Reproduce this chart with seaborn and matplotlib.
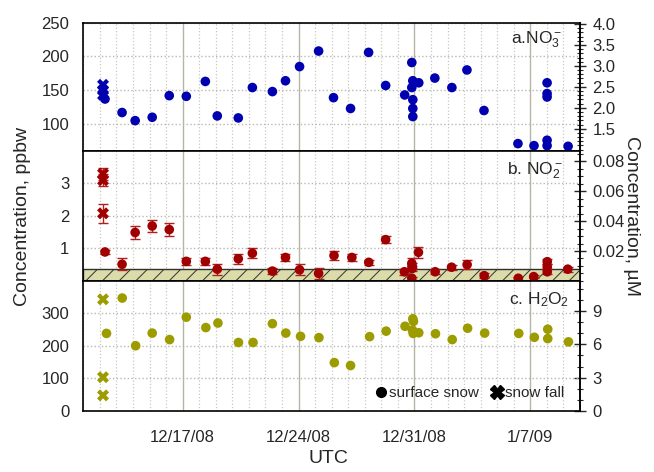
import matplotlib
matplotlib.use("Agg")
import matplotlib.pyplot as plt
import matplotlib.dates as mdates
from matplotlib.ticker import MultipleLocator, FormatStrFormatter, FixedLocator
from matplotlib.lines import Line2D
import numpy as np
import pandas as pd
import seaborn as sns

START = pd.Timestamp("2008-12-11")
END = pd.Timestamp("2009-01-10")

# sample times, in days after 2008-12-11 00:00 UTC
no3_day = [1.31, 2.34, 3.13, 4.16, 5.19, 6.22, 7.37, 8.09, 9.36, 10.21, 11.42,
           12.21, 13.06, 14.21, 15.11, 16.14, 17.23, 18.26, 19.41, 19.84, 19.90,
           19.84, 20.26, 19.90, 19.90, 19.90, 21.23, 22.26, 23.17, 24.20, 26.25,
           27.22, 28.01, 28.01, 28.01, 28.01, 28.01, 29.28]
no3_ppbw = [137, 117, 105, 110, 142, 141, 163, 112, 109, 154, 148,
            164, 185, 208, 139, 123, 206, 157, 143, 191, 164,
            154, 161, 136, 123, 111, 168, 154, 180, 120, 71,
            68, 161, 145, 140, 76, 68, 67]
no3_fall_day = [1.19, 1.19, 1.19]
no3_fall_ppbw = [158, 150, 143]

no2_day = [1.31, 2.34, 3.13, 4.16, 5.19, 6.22, 7.37, 8.09, 9.36, 10.21, 11.42,
           12.21, 13.06, 14.21, 15.14, 16.22, 17.24, 18.26, 19.39, 19.84, 19.86,
           19.86, 19.84, 20.24, 21.25, 22.24, 23.18, 24.21, 26.27, 27.20, 28.02,
           28.02, 28.02, 29.26]
no2_ppbw = [0.89, 0.51, 1.49, 1.69, 1.58, 0.60, 0.60, 0.36, 0.68, 0.85, 0.30,
            0.72, 0.34, 0.23, 0.78, 0.72, 0.57, 1.27, 0.28, 0.54, 0.46,
            0.38, 0.08, 0.88, 0.28, 0.42, 0.50, 0.16, 0.08, 0.13, 0.59,
            0.43, 0.28, 0.36]
no2_err = [0.07, 0.19, 0.19, 0.20, 0.20, 0.10, 0.10, 0.17, 0.15, 0.15, 0.10,
           0.12, 0.17, 0.17, 0.14, 0.10, 0.08, 0.10, 0.10, 0.15, 0.10,
           0.08, 0.05, 0.17, 0.08, 0.08, 0.15, 0.07, 0.05, 0.05, 0.08,
           0.08, 0.08, 0.08]
no2_fall_day = [1.19, 1.19, 1.19]
no2_fall_ppbw = [3.30, 3.10, 2.08]
no2_fall_err = [0.18, 0.18, 0.30]
no2_blank = 0.35  # detection limit band

h2o2_day = [1.40, 2.35, 3.16, 4.16, 5.21, 6.22, 7.40, 8.13, 9.37, 10.25, 11.42,
            12.23, 13.12, 14.23, 15.16, 16.14, 17.29, 18.29, 19.43, 19.90, 19.94,
            19.88, 19.92, 20.26, 21.27, 22.28, 23.21, 24.24, 26.30, 27.24, 28.05,
            28.05, 29.30]
h2o2_ppbw = [238, 347, 200, 239, 219, 288, 256, 270, 210, 210, 268,
             239, 229, 225, 148, 139, 228, 245, 260, 283, 275,
             248, 238, 240, 237, 219, 254, 239, 238, 226, 251,
             222, 212]
h2o2_fall_day = [1.19, 1.19, 1.19]
h2o2_fall_ppbw = [343, 103, 47]

BLUE = "#0000b0"
RED = "#a00000"
OLIVE = "#9c9c00"


def to_time(days):
    return START + pd.to_timedelta(np.asarray(days), unit="D")


def date_label(x, pos):
    d = mdates.num2date(x)
    return f"{d.month}/{d.day}/{d:%y}"


def style_axis(ax, ylim, yticks, yminor, right_scale, rticks, rminor, rfmt, lfmt="%d"):
    ax.set_xlim(START, END)
    ax.set_ylim(*ylim)
    ax.xaxis.set_major_locator(mdates.WeekdayLocator(byweekday=mdates.WE))
    ax.xaxis.set_minor_locator(mdates.DayLocator())
    ax.yaxis.set_major_locator(FixedLocator(yticks))
    ax.yaxis.set_minor_locator(MultipleLocator(yminor))
    ax.yaxis.set_major_formatter(FormatStrFormatter(lfmt))
    ax.grid(which="major", axis="x", color="#b4b4a8", ls="-", lw=1.0)
    ax.grid(which="minor", axis="x", color="#c8c8c0", ls=":", lw=0.9)
    ax.grid(which="major", axis="y", color="#b8b8b0", ls=":", lw=1.0)
    ax.set_axisbelow(True)
    ax.tick_params(axis="y", which="major", direction="inout", length=8, width=1,
                   labelsize=12, pad=6)
    ax.tick_params(axis="y", which="minor", direction="inout", length=5, width=0.8)
    ax.tick_params(axis="x", which="both", direction="out", length=5, width=0.8)
    for sp in ax.spines.values():
        sp.set_color("black")
        sp.set_linewidth(1.2)
    ax.set_xlabel("")
    ax.set_ylabel("")

    sec = ax.secondary_yaxis("right", functions=(lambda v: v / right_scale,
                                                  lambda v: v * right_scale))
    sec.yaxis.set_major_locator(FixedLocator(rticks))
    sec.yaxis.set_minor_locator(MultipleLocator(rminor))
    sec.yaxis.set_major_formatter(FormatStrFormatter(rfmt))
    sec.tick_params(axis="y", which="major", direction="inout", length=8, width=1,
                    labelsize=12, pad=5)
    sec.tick_params(axis="y", which="minor", direction="inout", length=5, width=0.8)
    sec.spines["right"].set_linewidth(1.2)
    return sec


sns.set_style("white")
plt.rcParams["font.family"] = ["Liberation Sans", "DejaVu Sans"]
plt.rcParams["mathtext.fontset"] = "custom"
plt.rcParams["mathtext.rm"] = "Liberation Sans"
plt.rcParams["mathtext.it"] = "Liberation Sans"
plt.rcParams["hatch.linewidth"] = 0.7
plt.rcParams["hatch.color"] = "#303030"

fig = plt.figure(figsize=(6.54, 4.72), dpi=100)
left, width = 0.1274, 0.7595
ax_a = fig.add_axes([left, 0.680, width, 0.272])
ax_b = fig.add_axes([left, 0.405, width, 0.275], sharex=ax_a)
ax_c = fig.add_axes([left, 0.130, width, 0.275], sharex=ax_a)

dot = dict(s=48, edgecolor="none", linewidth=0, legend=False, zorder=3)
cross = dict(s=75, marker="X", edgecolor="none", linewidth=0, legend=False, zorder=3)

# a. nitrate
sns.scatterplot(x=to_time(no3_day), y=no3_ppbw, color=BLUE, ax=ax_a, **dot)
sns.scatterplot(x=to_time(no3_fall_day), y=no3_fall_ppbw, color=BLUE, ax=ax_a, **cross)
style_axis(ax_a, (60, 250), [100, 150, 200, 250], 10, 62.0,
           [1.5, 2.0, 2.5, 3.0, 3.5, 4.0], 0.1, "%.1f")
ax_a.text(0.965, 0.95, r"a.NO$_3^-$", transform=ax_a.transAxes,
          ha="right", va="top", fontsize=12.5)

# b. nitrite
ax_b.axhspan(0, no2_blank, facecolor="#dcdcaa", edgecolor="#303030", hatch="//",
             lw=1.0, zorder=1)
ax_b.errorbar(to_time(no2_day), no2_ppbw, yerr=no2_err, fmt="none", ecolor="#b02020",
              elinewidth=1, capsize=3.5, capthick=1, zorder=2)
ax_b.errorbar(to_time(no2_fall_day), no2_fall_ppbw, yerr=no2_fall_err, fmt="none",
              ecolor="#b02020", elinewidth=1, capsize=3.5, capthick=1, zorder=2)
sns.scatterplot(x=to_time(no2_day), y=no2_ppbw, color=RED, ax=ax_b, **dot)
sns.scatterplot(x=to_time(no2_fall_day), y=no2_fall_ppbw, color=RED, ax=ax_b, **cross)
style_axis(ax_b, (0, 4), [1, 2, 3], 0.2, 46.0,
           [0.02, 0.04, 0.06, 0.08], 0.005, "%.2f")
ax_b.text(0.965, 0.93, r"b. NO$_2^-$", transform=ax_b.transAxes,
          ha="right", va="top", fontsize=12.5)

# c. hydrogen peroxide
sns.scatterplot(x=to_time(h2o2_day), y=h2o2_ppbw, color=OLIVE, ax=ax_c, **dot)
sns.scatterplot(x=to_time(h2o2_fall_day), y=h2o2_fall_ppbw, color=OLIVE, ax=ax_c, **cross)
style_axis(ax_c, (0, 400), [0, 100, 200, 300], 20, 34.0,
           [0, 3, 6, 9], 1, "%d")
ax_c.text(0.978, 0.93, r"c. H$_2$O$_2$", transform=ax_c.transAxes,
          ha="right", va="top", fontsize=12.5)

for ax in (ax_a, ax_b):
    ax.tick_params(axis="x", which="both", labelbottom=False, length=0)
ax_c.xaxis.set_major_formatter(plt.FuncFormatter(date_label))
ax_c.tick_params(axis="x", which="major", labelsize=12, pad=9)

handles = [Line2D([], [], marker="o", color="black", ls="none", markersize=7),
           Line2D([], [], marker="X", color="black", ls="none", markersize=9.5)]
ax_c.legend(handles, ["surface snow", "snow fall"], ncol=2, frameon=False,
            loc="lower right", bbox_to_anchor=(0.99, 0.0), fontsize=11,
            handletextpad=0.0, columnspacing=0.6, handlelength=1.1, borderpad=0.2)

fig.text(0.035, 0.542, "Concentration, ppbw", rotation=90, ha="center",
         va="center", fontsize=14)
fig.text(0.965, 0.542, "Concentration, µM", rotation=270, ha="center",
         va="center", fontsize=14)
fig.text(0.502, 0.028, "UTC", ha="center", va="center", fontsize=14)

fig.savefig("out.png", dpi=100)
